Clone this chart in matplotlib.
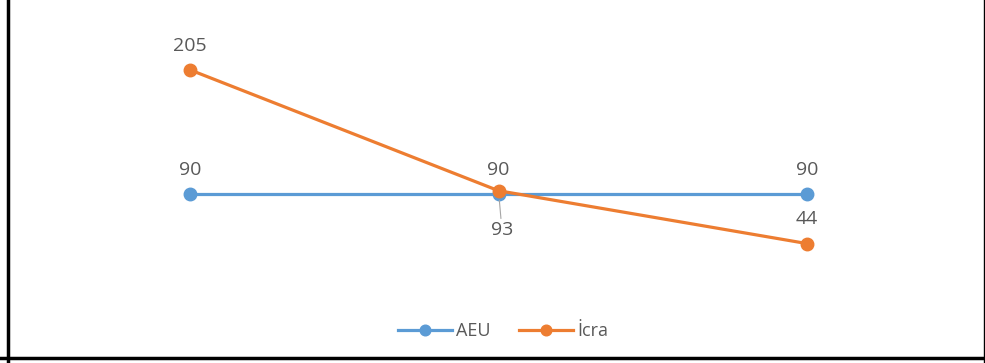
import matplotlib.pyplot as plt

# chart data
categories = ['1', '2', '3']
aeu = [90, 90, 90]
icra = [205, 93, 44]

plt.rcParams['font.family'] = ['Open Sans', 'DejaVu Sans']

blue = '#5B9BD5'
orange = '#ED7D31'
grey = '#595959'

fig = plt.figure(figsize=(9.85, 3.63), dpi=100)
ax = fig.add_axes([36 / 985, 1 - 291 / 363, 925 / 985, 269.6 / 363])

x = list(range(len(categories)))
ax.plot(x, aeu, color=blue, lw=2.3, marker='o', ms=9, label='AEU', zorder=2)
ax.plot(x, icra, color=orange, lw=2.3, marker='o', ms=9, label='İcra', zorder=3)

ax.set_xlim(-0.5, len(categories) - 0.5)
ax.set_ylim(0, 250)
ax.axis('off')

# data labels
for i, v in enumerate(aeu):
    ax.annotate(str(v), (i, v), xytext=(0, 17.5), textcoords='offset points',
                ha='center', va='center', fontsize=14, color=grey)
for i, v in enumerate(icra):
    if i == 1:
        ax.annotate(str(v), (i, v), xytext=(2.5, -28.5), textcoords='offset points',
                    ha='center', va='center', fontsize=14, color=grey,
                    arrowprops=dict(arrowstyle='-', color='#A6A6A6', lw=0.8,
                                    shrinkA=0, shrinkB=7))
    else:
        ax.annotate(str(v), (i, v), xytext=(0, 17.5), textcoords='offset points',
                    ha='center', va='center', fontsize=14, color=grey)

leg = fig.legend(loc='center', bbox_to_anchor=(503 / 985, 1 - 331 / 363), ncol=2,
                 frameon=False, fontsize=13, handlelength=3.0, columnspacing=1.6,
                 handletextpad=0.2, markerscale=0.85)
for t in leg.get_texts():
    t.set_color(grey)

# outer frame (left, bottom, right)
fig.add_artist(plt.Line2D([8 / 985, 8 / 985], [0, 1], color='black', lw=2.5))
fig.add_artist(plt.Line2D([0, 1], [5 / 363, 5 / 363], color='black', lw=2.5))
fig.add_artist(plt.Line2D([983.5 / 985, 983.5 / 985], [0, 1], color='black', lw=1))

fig.savefig('out.png', dpi=100)
